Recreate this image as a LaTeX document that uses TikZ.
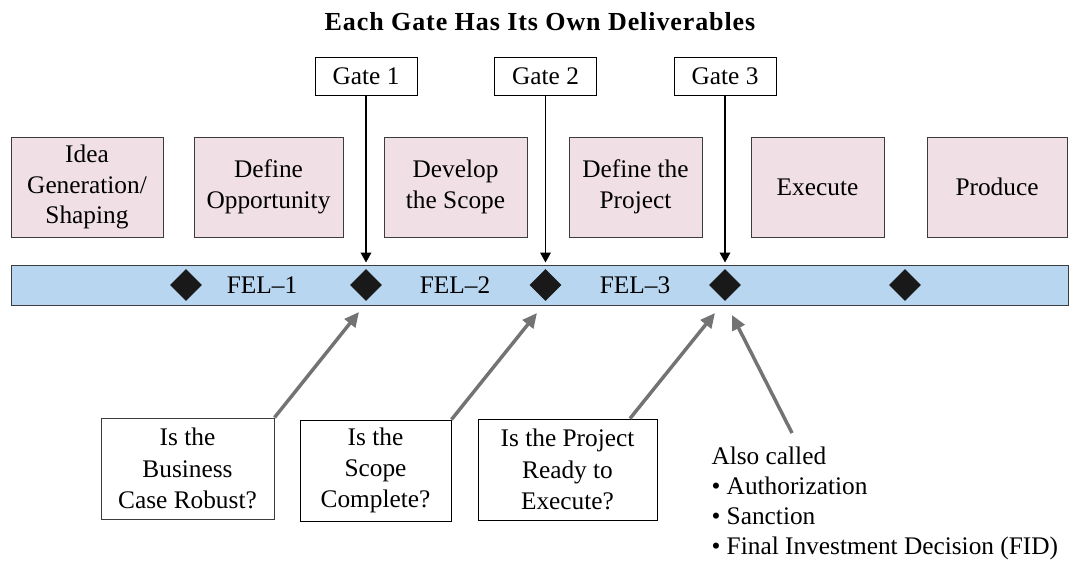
\documentclass[tikz,border=0pt]{standalone}
\usepackage{fontspec}
\setmainfont{Liberation Serif}
\usetikzlibrary{arrows.meta,shapes.geometric}

\definecolor{stagepink}{RGB}{240,224,229}
\definecolor{barblue}{RGB}{184,214,240}
\definecolor{boxline}{RGB}{60,60,60}
\definecolor{askgray}{RGB}{115,115,115}
\definecolor{milestoneblack}{RGB}{25,25,25}

\tikzset{every picture/.style={line width=0.75pt}}
\tikzset{
  stage/.style={draw=boxline, fill=stagepink, minimum height=75pt, inner sep=0pt, align=center, font=\fontsize{19}{23}\selectfont},
  gate/.style={draw, fill=white, minimum width=76.5pt, minimum height=28.5pt, inner sep=0pt, font=\fontsize{19}{23}\selectfont},
  milestone/.style={diamond, fill=milestoneblack, minimum width=24pt, minimum height=24pt, inner sep=0pt},
  fel/.style={inner sep=0pt, font=\fontsize{19}{23}\selectfont},
  ask/.style={draw=boxline, fill=white, minimum height=75.75pt, inner sep=0pt, align=center, font=\fontsize{19}{23.5}\selectfont},
  gatearrow/.style={-{Triangle[length=7.5pt,width=8pt]}, line width=1.1pt},
  askarrow/.style={draw=askgray, line width=2.6pt, -{Triangle[length=11pt,width=10pt]}},
}

\begin{document}
\begin{tikzpicture}[x=0.75pt,y=0.75pt,yscale=-1,xscale=1]
\useasboundingbox (0,0) rectangle (1069,568);

% Title
\node (title) at (540,22) {\fontsize{19.5}{23}\selectfont\bfseries\addfontfeature{LetterSpace=3.5}Each Gate Has Its Own Deliverables};

% Stage boxes
\node (idea) [stage, minimum width=114pt] at (87,187) {Idea\\Generation/\\Shaping};
\node (opportunity) [stage, minimum width=111.75pt] at (268.5,187) {Define\\Opportunity};
\node (scope) [stage, minimum width=107.25pt] at (455.5,187) {Develop\\the Scope};
\node (project) [stage, minimum width=99.75pt] at (635.5,187) {Define the\\Project};
\node (execute) [stage, minimum width=99.75pt] at (817.5,187) {Execute};
\node (produce) [stage, minimum width=105pt] at (997,187) {Produce};

% Time bar
\node (bar) [draw=boxline, fill=barblue, minimum width=792.75pt, minimum height=30pt, inner sep=0pt] at (539.5,285) {};

% Milestones
\node (d1) [milestone] at (186,285) {};
\node (d2) [milestone] at (366,285) {};
\node (d3) [milestone] at (545.5,285) {};
\node (d4) [milestone] at (725,285) {};
\node (d5) [milestone] at (905,285) {};

% FEL labels
\node (fel1) [fel] at (262,285) {FEL--1};
\node (fel2) [fel] at (455,285) {FEL--2};
\node (fel3) [fel] at (635,285) {FEL--3};

% Gates
\node (g1) [gate] at (366,76) {Gate 1};
\node (g2) [gate] at (545.5,76) {Gate 2};
\node (g3) [gate] at (725,76) {Gate 3};
\draw [gatearrow, shorten >=4.5pt] (g1) -- (d2);
\draw [gatearrow, shorten >=4.5pt] (g2) -- (d3);
\draw [gatearrow, shorten >=4.5pt] (g3) -- (d4);

% Questions
\node (q1) [ask, minimum width=129.75pt] at (187.5,468.5) {Is the\\Business\\Case Robust?};
\node (q2) [ask, minimum width=113.25pt, draw=black] at (375.5,470.5) {Is the\\Scope\\Complete?};
\node (q3) [ask, minimum width=134.25pt, draw=black] at (567.5,469.5) {Is the Project\\Ready to\\Execute?};

% Also called
\node (also) [anchor=north west, inner sep=0pt, align=left, font=\fontsize{19}{22.5}\selectfont] at (711,446) {Also called\\\textbullet\ Authorization\\\textbullet\ Sanction\\\textbullet\ Final Investment Decision (FID)};

% Arrow ends
\coordinate (t1) at (359,312);
\coordinate (t2) at (537,313);
\coordinate (t3) at (715,313);
\coordinate (t4) at (732,315);
\coordinate (s3) at (630,419);
\coordinate (s4) at (792,433);

\draw [askarrow] (q1.north east) -- (t1);
\draw [askarrow] (q2.north east) -- (t2);
\draw [askarrow] (s3 |- q3.north) -- (t3);
\draw [askarrow] (s4) -- (t4);

\end{tikzpicture}
\end{document}
